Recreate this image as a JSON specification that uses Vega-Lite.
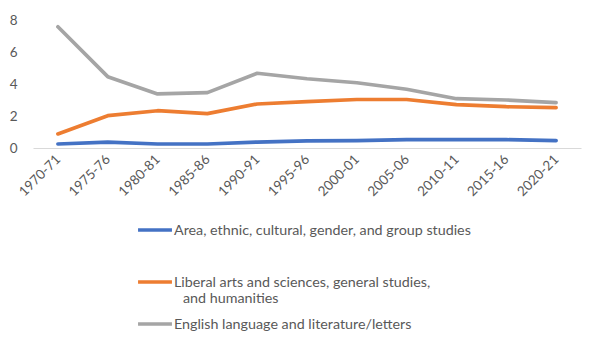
{
  "$schema": "https://vega.github.io/schema/vega-lite/v6.json",
  "autosize": {"type": "none"},
  "width": 548,
  "height": 128,
  "padding": {"left": 33, "top": 20, "right": 20, "bottom": 199},
  "background": "white",
  "data": {
    "values": [
      {"period": "1970-71", "series": "Area, ethnic, cultural, gender, and group studies", "value": 0.25},
      {"period": "1975-76", "series": "Area, ethnic, cultural, gender, and group studies", "value": 0.37},
      {"period": "1980-81", "series": "Area, ethnic, cultural, gender, and group studies", "value": 0.25},
      {"period": "1985-86", "series": "Area, ethnic, cultural, gender, and group studies", "value": 0.25},
      {"period": "1990-91", "series": "Area, ethnic, cultural, gender, and group studies", "value": 0.37},
      {"period": "1995-96", "series": "Area, ethnic, cultural, gender, and group studies", "value": 0.44},
      {"period": "2000-01", "series": "Area, ethnic, cultural, gender, and group studies", "value": 0.46},
      {"period": "2005-06", "series": "Area, ethnic, cultural, gender, and group studies", "value": 0.52},
      {"period": "2010-11", "series": "Area, ethnic, cultural, gender, and group studies", "value": 0.52},
      {"period": "2015-16", "series": "Area, ethnic, cultural, gender, and group studies", "value": 0.52},
      {"period": "2020-21", "series": "Area, ethnic, cultural, gender, and group studies", "value": 0.46},
      {"period": "1970-71", "series": "Liberal arts and sciences, general studies, and humanities", "value": 0.88},
      {"period": "1975-76", "series": "Liberal arts and sciences, general studies, and humanities", "value": 2.02},
      {"period": "1980-81", "series": "Liberal arts and sciences, general studies, and humanities", "value": 2.33},
      {"period": "1985-86", "series": "Liberal arts and sciences, general studies, and humanities", "value": 2.15},
      {"period": "1990-91", "series": "Liberal arts and sciences, general studies, and humanities", "value": 2.75},
      {"period": "1995-96", "series": "Liberal arts and sciences, general studies, and humanities", "value": 2.9},
      {"period": "2000-01", "series": "Liberal arts and sciences, general studies, and humanities", "value": 3.03},
      {"period": "2005-06", "series": "Liberal arts and sciences, general studies, and humanities", "value": 3.03},
      {"period": "2010-11", "series": "Liberal arts and sciences, general studies, and humanities", "value": 2.71},
      {"period": "2015-16", "series": "Liberal arts and sciences, general studies, and humanities", "value": 2.58},
      {"period": "2020-21", "series": "Liberal arts and sciences, general studies, and humanities", "value": 2.52},
      {"period": "1970-71", "series": "English language and literature/letters", "value": 7.58},
      {"period": "1975-76", "series": "English language and literature/letters", "value": 4.46},
      {"period": "1980-81", "series": "English language and literature/letters", "value": 3.38},
      {"period": "1985-86", "series": "English language and literature/letters", "value": 3.46},
      {"period": "1990-91", "series": "English language and literature/letters", "value": 4.67},
      {"period": "1995-96", "series": "English language and literature/letters", "value": 4.33},
      {"period": "2000-01", "series": "English language and literature/letters", "value": 4.08},
      {"period": "2005-06", "series": "English language and literature/letters", "value": 3.67},
      {"period": "2010-11", "series": "English language and literature/letters", "value": 3.08},
      {"period": "2015-16", "series": "English language and literature/letters", "value": 3.0},
      {"period": "2020-21", "series": "English language and literature/letters", "value": 2.83}
    ]
  },
  "encoding": {
    "x": {
      "field": "period",
      "type": "ordinal",
      "scale": {"type": "point", "padding": 0.5},
      "axis": {
        "title": null,
        "labelAngle": -45,
        "labelAlign": "right",
        "labelBaseline": "middle",
        "labelPadding": 9,
        "ticks": false,
        "domainColor": "#d9d9d9",
        "domainWidth": 1,
        "grid": false
      }
    },
    "y": {
      "field": "value",
      "type": "quantitative",
      "scale": {"domain": [0, 8], "nice": false},
      "axis": {
        "title": null,
        "values": [0, 2, 4, 6, 8],
        "domain": false,
        "ticks": false,
        "grid": false,
        "labelPadding": 16
      }
    }
  },
  "layer": [
    {
      "transform": [{"filter": "datum.series == 'Area, ethnic, cultural, gender, and group studies'"}],
      "mark": {"type": "line", "strokeWidth": 3.7, "strokeCap": "round", "strokeJoin": "round"},
      "encoding": {
        "color": {
          "field": "series",
          "type": "nominal",
          "scale": {"domain": ["Area, ethnic, cultural, gender, and group studies"], "range": ["#4472C4"]},
          "legend": {
            "legendX": 103,
            "legendY": 191,
            "encode": {"labels": {"update": {"dy": {"value": 5}}}}
          }
        }
      }
    },
    {
      "transform": [{"filter": "datum.series == 'Liberal arts and sciences, general studies, and humanities'"}],
      "mark": {"type": "line", "strokeWidth": 3.7, "strokeCap": "round", "strokeJoin": "round"},
      "encoding": {
        "color": {
          "field": "series",
          "type": "nominal",
          "scale": {"domain": ["Liberal arts and sciences, general studies, and humanities"], "range": ["#ED7D31"]},
          "legend": {
            "legendX": 103,
            "legendY": 243,
            "labelExpr": "['Liberal arts and sciences, general studies,', '\u200b\u2002\u2009and humanities']",
            "encode": {"labels": {"update": {"dy": {"value": 5}}}}
          }
        }
      }
    },
    {
      "transform": [{"filter": "datum.series == 'English language and literature/letters'"}],
      "mark": {"type": "line", "strokeWidth": 3.7, "strokeCap": "round", "strokeJoin": "round"},
      "encoding": {
        "color": {
          "field": "series",
          "type": "nominal",
          "scale": {"domain": ["English language and literature/letters"], "range": ["#A5A5A5"]},
          "legend": {
            "legendX": 103,
            "legendY": 285,
            "encode": {"labels": {"update": {"dy": {"value": 5}}}}
          }
        }
      }
    }
  ],
  "resolve": {"scale": {"color": "independent"}, "legend": {"color": "independent"}},
  "config": {
    "font": "Lato",
    "view": {"stroke": null},
    "axis": {"labelFont": "Lato", "labelFontSize": 13.5, "labelColor": "#595959"},
    "legend": {
      "title": null,
      "orient": "none",
      "direction": "vertical",
      "symbolType": "stroke",
      "symbolSize": 1150,
      "symbolStrokeWidth": 3.7,
      "labelLimit": 400,
      "labelOffset": 0,
      "labelBaseline": "alphabetic",
      "labelFont": "Lato",
      "labelFontSize": 14.3,
      "labelColor": "#595959",
      "labelLineHeight": 15
    }
  }
}
